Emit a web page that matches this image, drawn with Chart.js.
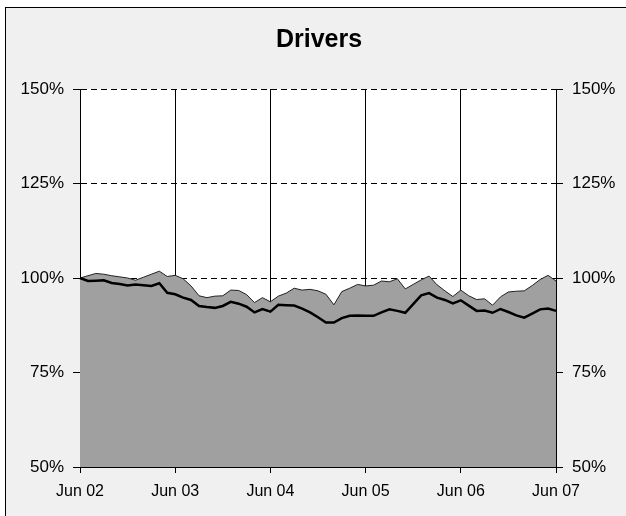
<!DOCTYPE html>
<html>
<head>
<meta charset="utf-8">
<script src="https://cdn.jsdelivr.net/npm/chart.js@4"></script>
<style>
  html, body { margin: 0; padding: 0; background: #fff; overflow: hidden; }
  #frame { position: absolute; left: 5px; top: 7px; width: 900px; height: 900px; border: 1px solid #000; background: #f0f0f0; }
  #wrap { position: absolute; left: 0; top: 0; width: 626px; height: 516px; }
</style>
</head>
<body>
<div id="frame"></div>
<div id="wrap"><canvas id="chart1"></canvas></div>
<script>
// tick labels along the bottom, one per June
const yearTicks = ['Jun 02', 'Jun 03', 'Jun 04', 'Jun 05', 'Jun 06', 'Jun 07']

// monthly values, Jun 02 .. Jun 07, in % of Jun 02
const upperLine = [
  100.0, 100.6, 101.2, 101.0, 100.6, 100.3, 100.0, 99.4, 100.2, 101.0, 101.8, 100.4,
  100.7, 99.8, 97.9, 95.3, 94.8, 95.2, 95.3, 96.8, 96.7, 95.6, 93.5, 94.8,
  93.7, 95.2, 96.0, 97.3, 96.8, 97.0, 96.6, 95.7, 92.9, 96.4, 97.3, 98.3,
  97.9, 98.1, 99.2, 99.0, 99.8, 97.1, 98.3, 99.5, 100.5, 98.2, 96.6, 95.1,
  96.8, 95.3, 94.3, 94.5, 92.8, 95.0, 96.3, 96.5, 96.6, 98.0, 99.6, 100.7,
  99.2
]
const driversLine = [
  100.0, 99.2, 99.3, 99.4, 98.7, 98.4, 98.0, 98.3, 98.1, 97.9, 98.6, 96.1,
  95.7, 94.8, 94.2, 92.6, 92.3, 92.1, 92.6, 93.7, 93.2, 92.4, 90.9, 91.8,
  91.1, 92.9, 92.8, 92.7, 91.9, 90.9, 89.6, 88.2, 88.2, 89.4, 90.0, 90.1,
  90.0, 90.0, 90.9, 91.7, 91.3, 90.8, 93.1, 95.4, 96.0, 94.8, 94.2, 93.3,
  94.1, 92.7, 91.3, 91.4, 90.8, 91.8, 91.0, 90.1, 89.5, 90.6, 91.7, 91.9,
  91.3
]

const monthNames = ['Jun', 'Jul', 'Aug', 'Sep', 'Oct', 'Nov', 'Dec', 'Jan', 'Feb', 'Mar', 'Apr', 'May']
const labels = upperLine.map((v, i) => {
  const yr = 2 + Math.floor((i + 5) / 12)
  return monthNames[i % 12] + ' ' + String(yr).padStart(2, '0')
})

const family = 'Arial, "Liberation Sans", sans-serif'
const yFont = { family: family, size: 17 }
const xFont = { family: family, size: 16 }

// white plot area on the grey panel
const plotBg = {
  id: 'plotBg',
  beforeDraw(chart) {
    const a = chart.chartArea
    const ctx = chart.ctx
    ctx.save()
    ctx.fillStyle = '#fff'
    ctx.fillRect(a.left, a.top, a.right - a.left, a.bottom - a.top)
    ctx.restore()
  }
}

new Chart(document.getElementById('chart1'), {
  type: 'line',
  data: {
    labels: labels,
    datasets: [{
      label: 'Drivers',
      data: driversLine,
      borderColor: '#000',
      borderWidth: 2.5,
      backgroundColor: '#a0a0a0',
      fill: false,
      pointRadius: 0,
      tension: 0,
      order: 1
    }, {
      label: 'Upper',
      data: upperLine,
      borderColor: '#222',
      borderWidth: 1,
      backgroundColor: '#a0a0a0',
      fill: 'start',
      pointRadius: 0,
      tension: 0,
      order: 2
    }]
  },
  plugins: [plotBg],
  options: {
    responsive: true,
    maintainAspectRatio: false,
    animation: false,
    layout: { padding: { left: 12, right: 0, top: 0, bottom: 0 } },
    plugins: {
      legend: { display: false },
      tooltip: { enabled: false },
      title: {
        display: true,
        text: 'Drivers',
        color: '#000',
        font: { family: family, size: 25, weight: 'bold' },
        padding: { top: 25, bottom: 34 }
      }
    },
    scales: {
      x: {
        offset: false,
        afterFit: s => { s.height = 49 },
        grid: {
          color: c => c.index % 12 === 0 ? '#000' : 'rgba(0,0,0,0)',
          tickColor: c => c.index % 12 === 0 ? '#000' : 'rgba(0,0,0,0)',
          lineWidth: 1,
          tickLength: 6
        },
        border: { color: '#000', width: 1 },
        ticks: {
          autoSkip: false,
          maxRotation: 0,
          color: '#000',
          font: xFont,
          padding: 9,
          callback: (v, i) => i % 12 === 0 ? yearTicks[i / 12] : ''
        }
      },
      y: {
        position: 'left',
        min: 50,
        max: 150,
        afterFit: s => { s.width = 68 },
        grid: { color: '#000', tickColor: '#000', lineWidth: 1, tickLength: 7 },
        border: { color: '#000', width: 1, dash: [6, 4] },
        ticks: { stepSize: 25, color: '#000', font: yFont, padding: 9, callback: v => v + '%' }
      },
      y2: {
        position: 'right',
        min: 50,
        max: 150,
        afterFit: s => { s.width = 70 },
        grid: { drawOnChartArea: false, tickColor: '#000', tickLength: 7 },
        border: { color: '#000', width: 1 },
        ticks: { stepSize: 25, color: '#000', font: yFont, padding: 9, callback: v => v + '%' }
      }
    }
  }
})
</script>
</body>
</html>
